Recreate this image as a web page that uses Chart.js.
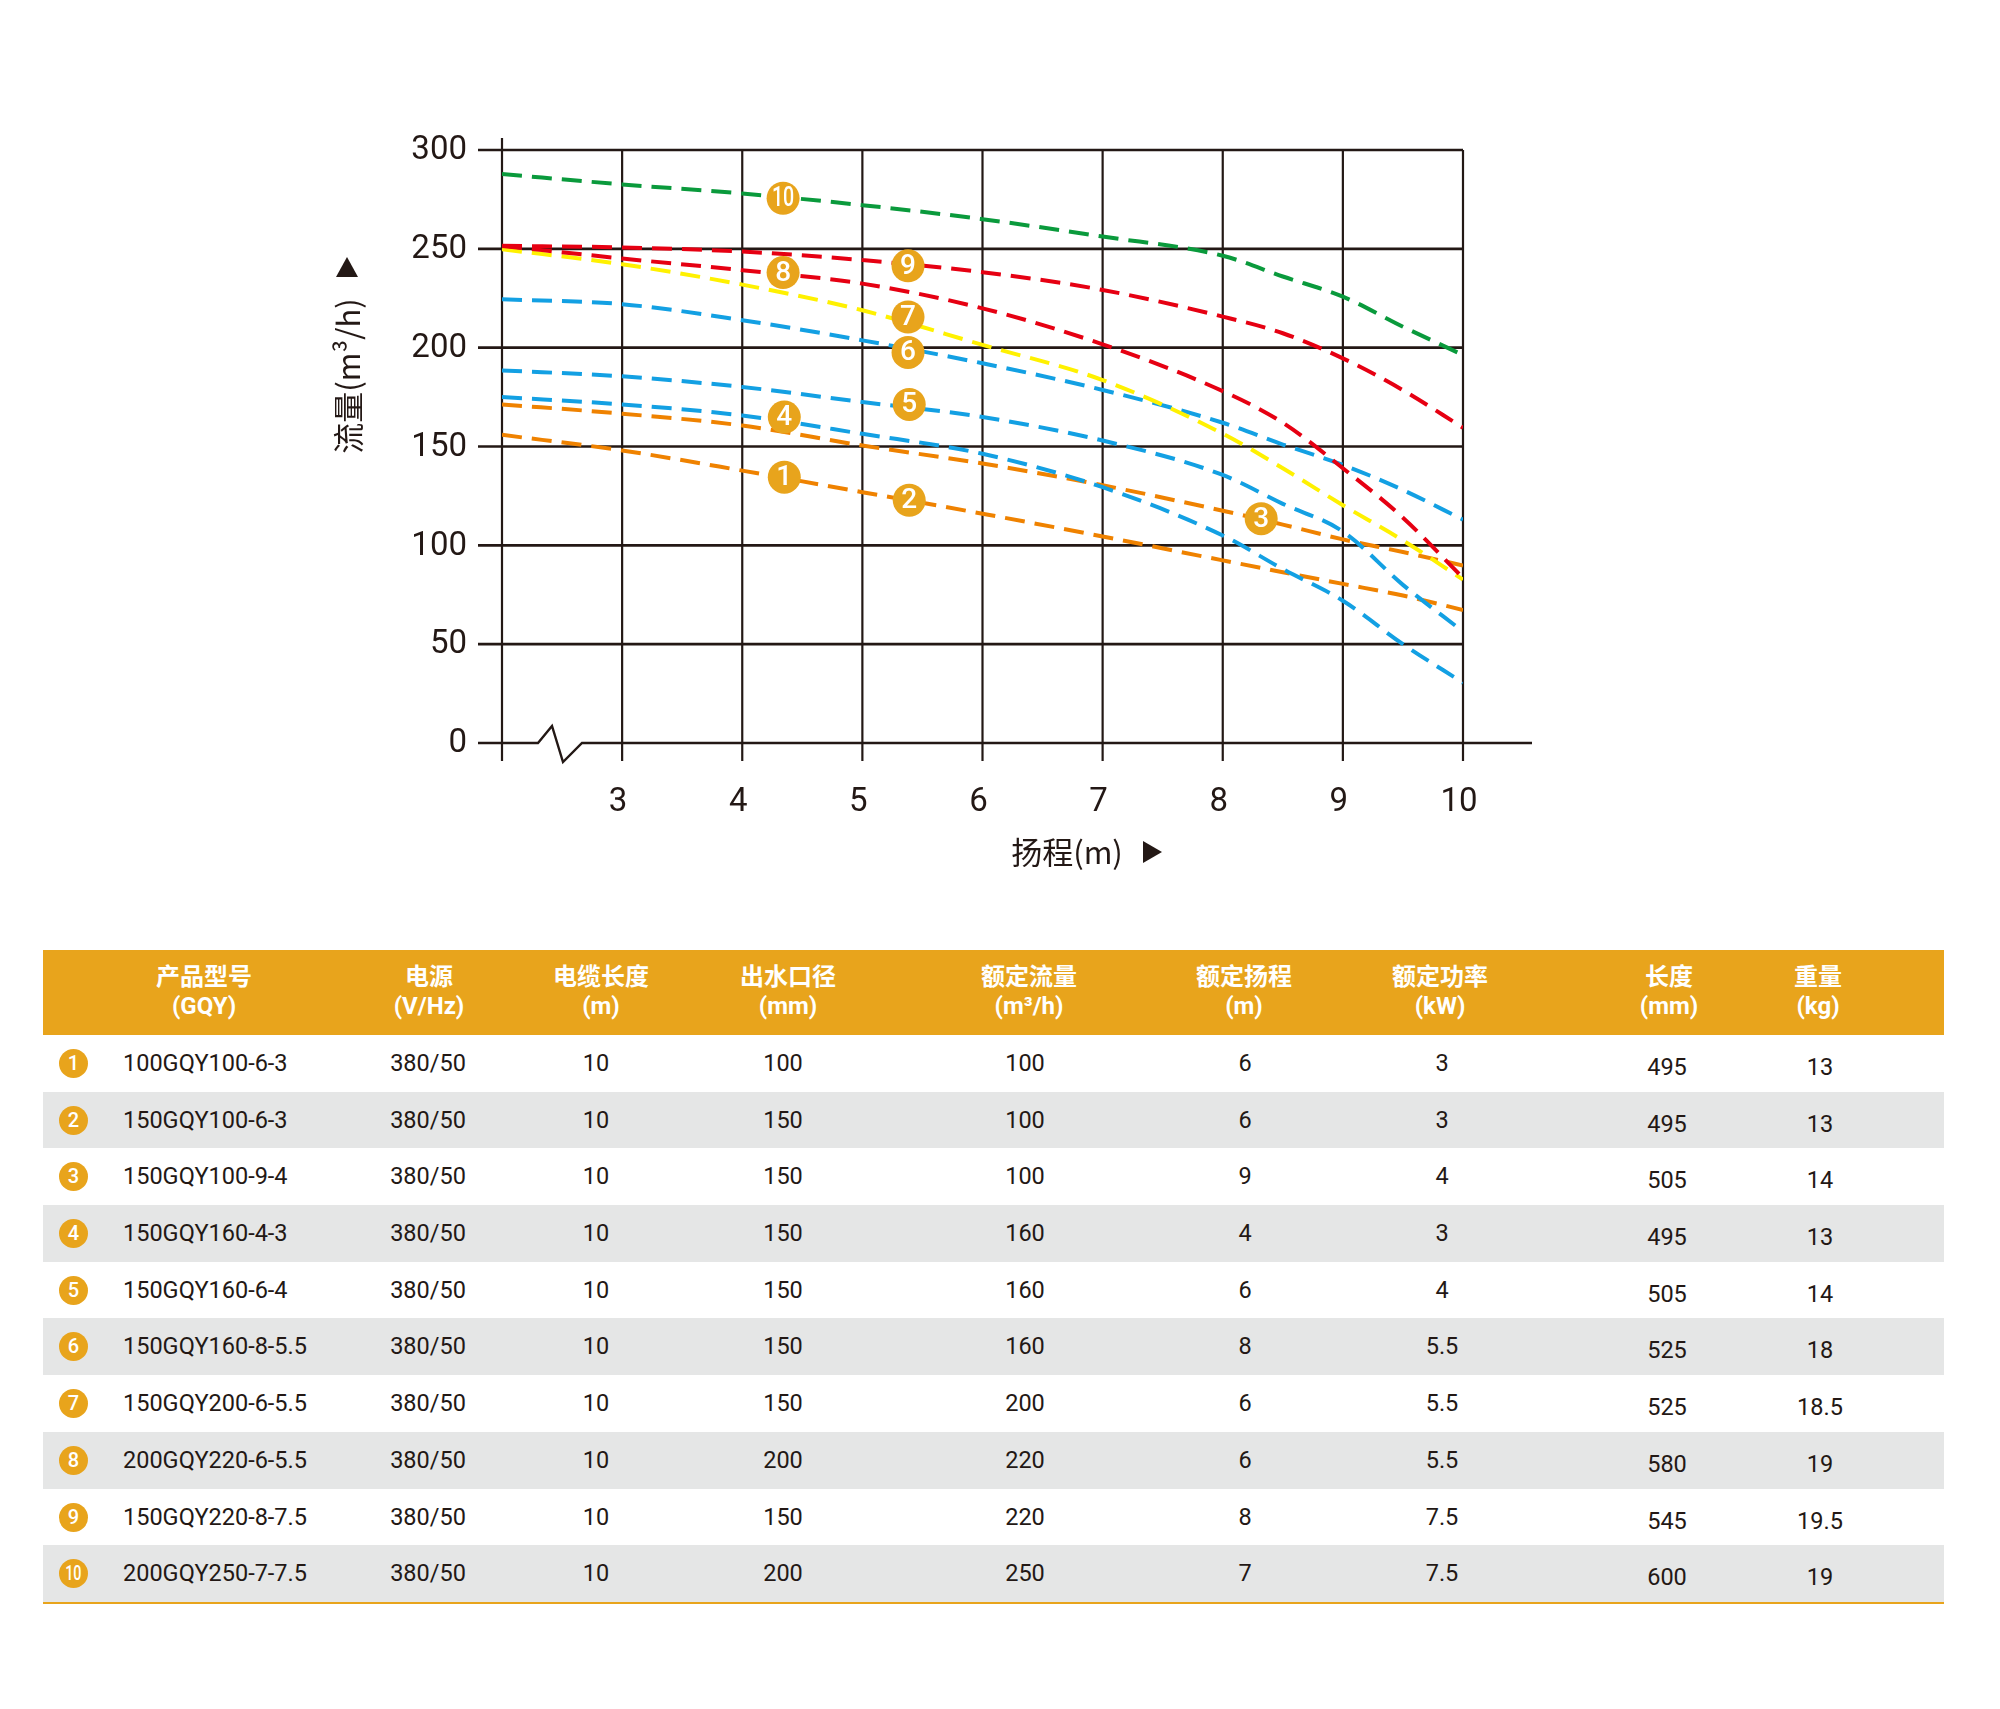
<!DOCTYPE html>
<html lang="zh-CN">
<head>
<meta charset="UTF-8">
<title>GQY 流量-扬程曲线</title>
<script src="https://cdn.jsdelivr.net/npm/chart.js"></script>
<style>
    body {
        margin: 0;
        width: 2000px;
        height: 1709px;
        position: relative;
        overflow: hidden;
        background: #fff;
        font-family: Roboto, "Noto Sans CJK SC", sans-serif;
        color: #231815;
    }
    #curveChart { position: absolute; left: 0; top: 0; }
    .spec-table { position: absolute; left: 43px; top: 950px; width: 1901px; }
    .spec-head { position: relative; height: 85px; background: #e8a41c; }
    .spec-head .cell {
        position: absolute; top: 13px; transform: translateX(-50%);
        text-align: center; color: #fff; font-weight: 700; font-size: 24px;
        line-height: 29px; white-space: nowrap;
    }
    .spec-body { border-bottom: 2px solid #e8a41c; }
    .spec-row { position: relative; height: 56.7px; background: #fff; }
    .spec-row.alt { background: #e5e6e6; }
    .spec-row .cell {
        position: absolute; top: 0; line-height: 57px; font-size: 23.5px;
        transform: translateX(-50%); white-space: nowrap;
    }
    .spec-row .model { transform: none; }
    .spec-row .num {
        position: absolute; left: 16px; top: 14px; width: 29px; height: 29px;
        border-radius: 50%; background: #e8a41c; color: #fff; font-size: 20px;
        font-weight: 500; line-height: 29px; text-align: center;
    }
    .spec-row .num span { display: inline-block; }
</style>
</head>
<body>
<canvas id="curveChart" width="2000" height="920"></canvas>
<div class="spec-table">
    <div class="spec-head" id="specHead"></div>
    <div class="spec-body" id="specBody"></div>
</div>

<script>
    // 扬程 (m) sampling points shared by all curves
    const headX = [2, 3, 4, 5, 6, 7, 8, 8.5, 9, 9.5, 10];
    const xTicks = [3, 4, 5, 6, 7, 8, 9, 10];
    const yTicks = [0, 50, 100, 150, 200, 250, 300];

    // flow (m³/h)
    const curve12 = [155.9, 148, 137.8, 126.9, 116, 104.5, 92.4, 86.4, 80.5, 74.6, 67.3];
    const curve3 = [171.3, 166.6, 160.6, 150.5, 141.4, 130.4, 117.5, 110.5, 103, 96.6, 89.8];
    const curve4 = [175, 171.3, 165.7, 156.4, 146.3, 129.4, 105, 88, 72, 50, 30.5];
    const curve5 = [188.5, 185.5, 180.1, 172.5, 164.9, 153, 135.6, 121, 107, 80, 56.4];
    const curve6 = [224.5, 222, 213.9, 203.7, 192.1, 178.6, 162, 151, 140.7, 128, 113];
    const curve7 = [249.8, 242.2, 231.9, 218.9, 201.4, 183.6, 156.5, 139, 120.3, 102.5, 82.7];
    const curve8 = [251.5, 245.1, 239.2, 232.4, 219.9, 201.7, 178, 162, 139, 114, 83.5];
    const curve9 = [251.5, 250.7, 248.6, 244.3, 238.2, 229.2, 215.7, 207.3, 194.6, 178.5, 159.5];
    const curve10 = [287.8, 282.6, 278, 272.1, 265, 256.2, 246.5, 236, 225.8, 210.6, 196.3];

    // numbered badges on the curves
    const markerNums = ['1', '2', '3', '4', '5', '6', '7', '8', '9', '10'];
    const markerX = [4.35, 5.39, 8.32, 4.35, 5.39, 5.38, 5.38, 4.34, 5.38, 4.34];
    const markerY = [134.5, 122.8, 113.5, 164.9, 171.3, 197.6, 215.5, 238, 241.4, 275.6];

    // table
    const headLine1 = ['产品型号', '电源', '电缆长度', '出水口径', '额定流量', '额定扬程', '额定功率', '长度', '重量'];
    const headLine2 = ['(GQY)', '(V/Hz)', '(m)', '(mm)', '(m³/h)', '(m)', '(kW)', '(mm)', '(kg)'];
    const models = ['100GQY100-6-3', '150GQY100-6-3', '150GQY100-9-4', '150GQY160-4-3', '150GQY160-6-4',
        '150GQY160-8-5.5', '150GQY200-6-5.5', '200GQY220-6-5.5', '150GQY220-8-7.5', '200GQY250-7-7.5'];
    const supply = ['380/50', '380/50', '380/50', '380/50', '380/50', '380/50', '380/50', '380/50', '380/50', '380/50'];
    const cableLen = ['10', '10', '10', '10', '10', '10', '10', '10', '10', '10'];
    const outlet = ['100', '150', '150', '150', '150', '150', '150', '200', '150', '200'];
    const ratedFlow = ['100', '100', '100', '160', '160', '160', '200', '220', '220', '250'];
    const ratedHead = ['6', '6', '9', '4', '6', '8', '6', '6', '8', '7'];
    const ratedPower = ['3', '3', '4', '3', '4', '5.5', '5.5', '5.5', '7.5', '7.5'];
    const pumpLength = ['495', '495', '505', '495', '505', '525', '525', '580', '545', '600'];
    const pumpWeight = ['13', '13', '14', '13', '14', '18', '18.5', '19', '19.5', '19'];

    // styles
    const GREEN = '#0a9a3c', RED = '#e60012', YELLOW = '#fff100', BLUE = '#13a0e3', ORANGE = '#ef8200';
    const BADGE = '#e8a41c', INK = '#231815';

    const curves = [
        { data: curve10, color: GREEN },
        { data: curve9, color: RED },
        { data: curve8, color: RED },
        { data: curve7, color: YELLOW },
        { data: curve6, color: BLUE },
        { data: curve5, color: BLUE },
        { data: curve4, color: BLUE },
        { data: curve3, color: ORANGE },
        { data: curve12, color: ORANGE }
    ];

    // grid, axes, break mark and titles
    const framePlugin = {
        id: 'frame',
        beforeDatasetsDraw(chart) {
            const { ctx } = chart;
            const xs = chart.scales.x, ys = chart.scales.y;
            const left = xs.getPixelForValue(2), right = xs.getPixelForValue(10);
            const top = ys.getPixelForValue(300), base = ys.getPixelForValue(0);
            ctx.save();
            ctx.strokeStyle = INK;

            // horizontal grid
            ctx.lineWidth = 2.6;
            yTicks.filter(v => v > 0).forEach(v => {
                const py = ys.getPixelForValue(v);
                ctx.beginPath();
                ctx.moveTo(left - 24, py);
                ctx.lineTo(right, py);
                ctx.stroke();
            });

            // zero line with the axis break
            ctx.lineWidth = 2.4;
            ctx.lineJoin = 'miter';
            ctx.beginPath();
            ctx.moveTo(left - 24, base);
            ctx.lineTo(left + 36, base);
            ctx.lineTo(left + 50, base - 17);
            ctx.lineTo(left + 61, base + 19);
            ctx.lineTo(left + 80, base);
            ctx.lineTo(right + 69, base);
            ctx.stroke();

            // vertical grid
            ctx.lineWidth = 2.2;
            [2].concat(xTicks).forEach(v => {
                const px = xs.getPixelForValue(v);
                ctx.beginPath();
                ctx.moveTo(px, v === 2 ? top - 12 : top);
                ctx.lineTo(px, base + 18);
                ctx.stroke();
            });

            // tick labels
            ctx.fillStyle = INK;
            ctx.font = '33px Roboto';
            ctx.textAlign = 'right';
            ctx.textBaseline = 'middle';
            yTicks.forEach(v => ctx.fillText(String(v), left - 35, ys.getPixelForValue(v) + 1));
            ctx.textAlign = 'center';
            xTicks.forEach(v => ctx.fillText(String(v), xs.getPixelForValue(v) - 4, base + 60));

            // axis titles
            ctx.font = '31px "Noto Sans CJK SC"';
            ctx.fillText('扬程(m)', 1067, base + 109);
            ctx.beginPath();
            ctx.moveTo(1143, base + 98);
            ctx.lineTo(1143, base + 120);
            ctx.lineTo(1162, base + 109);
            ctx.closePath();
            ctx.fill();

            ctx.save();
            ctx.translate(left - 154, top + 226);
            ctx.rotate(-Math.PI / 2);
            ctx.fillText('流量(m³/h)', 0, 0);
            ctx.restore();
            ctx.beginPath();
            ctx.moveTo(left - 166, top + 127);
            ctx.lineTo(left - 144, top + 127);
            ctx.lineTo(left - 155, top + 107);
            ctx.closePath();
            ctx.fill();
            ctx.restore();
        },
        afterDatasetsDraw(chart) {
            const { ctx } = chart;
            const meta = chart.getDatasetMeta(chart.data.datasets.length - 1);
            ctx.save();
            ctx.fillStyle = '#fff';
            ctx.font = '500 28px Roboto';
            ctx.textAlign = 'center';
            ctx.textBaseline = 'middle';
            meta.data.forEach((pt, i) => {
                const label = markerNums[i];
                ctx.save();
                ctx.translate(pt.x, pt.y + 1);
                if (label.length > 1) ctx.scale(0.7, 1);
                ctx.fillText(label, 0, 0);
                ctx.restore();
            });
            ctx.restore();
        }
    };

    const datasets = curves.map(c => ({
        data: headX.map((x, i) => ({ x: x, y: c.data[i] })),
        borderColor: c.color,
        borderWidth: 4,
        borderDash: [20, 10],
        pointRadius: 0,
        fill: false,
        cubicInterpolationMode: 'monotone'
    }));
    datasets.push({
        type: 'scatter',
        data: markerX.map((x, i) => ({ x: x, y: markerY[i] })),
        backgroundColor: BADGE,
        borderWidth: 0,
        pointRadius: 16.5,
        showLine: false,
        order: -1
    });

    new Chart(document.getElementById('curveChart'), {
        type: 'line',
        data: { datasets: datasets },
        options: {
            responsive: false,
            animation: false,
            devicePixelRatio: 1,
            events: [],
            layout: { padding: { left: 502, right: 537, top: 150, bottom: 177 } },
            scales: {
                x: { type: 'linear', min: 2, max: 10, display: false },
                y: { min: 0, max: 300, display: false }
            },
            plugins: { legend: { display: false }, tooltip: { enabled: false } }
        },
        plugins: [framePlugin]
    });

    // spec table (page x minus table left)
    const headCenters = [161, 386, 558, 745, 986, 1201, 1397, 1626, 1775];
    const valueCenters = [161, 385, 553, 740, 982, 1202, 1399, 1624, 1777];
    const colDrop = [0, 0, 0, 0, 0, 0, 0, 4, 4];

    const head = document.getElementById('specHead');
    headLine1.forEach((t, i) => {
        const cell = document.createElement('div');
        cell.className = 'cell';
        cell.style.left = headCenters[i] + 'px';
        cell.innerHTML = t + '<br>' + headLine2[i];
        head.appendChild(cell);
    });

    const body = document.getElementById('specBody');
    const columns = [supply, cableLen, outlet, ratedFlow, ratedHead, ratedPower, pumpLength, pumpWeight];
    models.forEach((m, r) => {
        const row = document.createElement('div');
        row.className = 'spec-row' + (r % 2 === 1 ? ' alt' : '');
        const badge = document.createElement('div');
        badge.className = 'num';
        const n = String(r + 1);
        badge.innerHTML = n.length > 1 ? '<span style="transform:scaleX(0.72)">' + n + '</span>' : n;
        row.appendChild(badge);
        const model = document.createElement('div');
        model.className = 'cell model';
        model.style.left = '80px';
        model.textContent = m;
        row.appendChild(model);
        columns.forEach((col, c) => {
            const cell = document.createElement('div');
            cell.className = 'cell';
            cell.style.left = valueCenters[c + 1] + 'px';
            cell.style.top = colDrop[c + 1] + 'px';
            cell.textContent = col[r];
            row.appendChild(cell);
        });
        body.appendChild(row);
    });
</script>
</body>
</html>
